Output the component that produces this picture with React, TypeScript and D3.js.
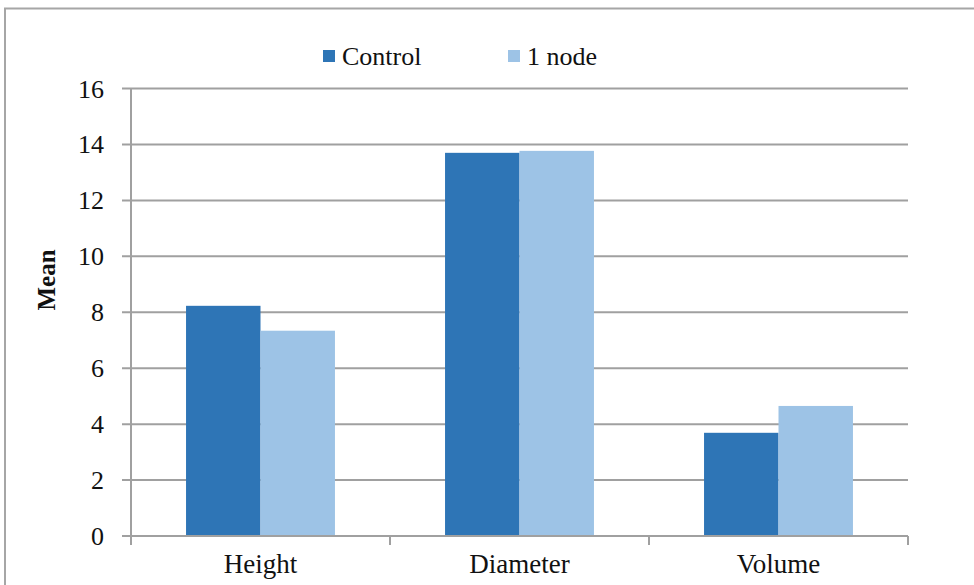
import React from "react";
import * as d3 from "d3";

const categories = ["Height", "Diameter", "Volume"];
const seriesNames = ["Control", "1 node"];
const controlValues = [8.23, 13.7, 3.69];
const nodeValues = [7.34, 13.77, 4.65];
const yTicks = [0, 2, 4, 6, 8, 10, 12, 14, 16];
const colors = ["#2E75B6", "#9DC3E6"];

const W = 974;
const H = 585;
const left = 131;
const right = 908;
const top = 88.5;
const bottom = 536;

export default function App() {
  const x = d3.scaleBand<string>().domain(categories).range([left, right]).paddingInner(0.425).paddingOuter(0.2125);
  const x1 = d3.scaleBand<string>().domain(seriesNames).range([0, x.bandwidth()]);
  const y = d3.scaleLinear().domain([0, 16]).range([bottom, top]);
  const series = [controlValues, nodeValues];
  const step = x.step();
  const boundaries = d3.range(categories.length + 1).map((i) => left + i * step);

  return (
    <svg
      width={W}
      height={H}
      fontFamily="Times"
      style={{ position: "absolute", left: 0, top: 0, background: "#fff", fontFamily: "Times" }}
    >
      <rect x={0} y={0} width={W} height={H} fill="#fff" />
      <path d={`M5,${H} L5,8.5 L${W},8.5`} fill="none" stroke="#A6A6A6" strokeWidth={2} />
      {yTicks.map((t) => (
        <line key={t} x1={122} x2={right} y1={y(t)} y2={y(t)} stroke="#A0A0A0" strokeWidth={2} />
      ))}
      {categories.map((c, i) => (
        <g key={c}>
          {series.map((vals, s) => (
            <rect
              key={s}
              x={(x(c) as number) + (x1(seriesNames[s]) as number)}
              y={y(vals[i])}
              width={x1.bandwidth()}
              height={bottom - y(vals[i])}
              fill={colors[s]}
            />
          ))}
        </g>
      ))}
      <line x1={left} x2={left} y1={top} y2={bottom} stroke="#A0A0A0" strokeWidth={2} />
      {yTicks.map((t) => (
        <text key={t} x={104} y={y(t) + 9} textAnchor="end" fontSize={26} fill="#111">
          {t}
        </text>
      ))}
      <line x1={left} x2={right} y1={bottom} y2={bottom} stroke="#A0A0A0" strokeWidth={2} />
      {boundaries.map((b, i) => (
        <line key={i} x1={b} x2={b} y1={bottom} y2={545} stroke="#A0A0A0" strokeWidth={2} />
      ))}
      {categories.map((c) => (
        <text key={c} x={(x(c) as number) + x.bandwidth() / 2} y={573} textAnchor="middle" fontSize={27} fill="#111">
          {c}
        </text>
      ))}
      <text transform="translate(55,280) rotate(-90)" textAnchor="middle" fontSize={25} fontWeight="bold" fill="#111">
        Mean
      </text>
      {seriesNames.map((n, i) => {
        const lx = [323, 508][i];
        return (
          <g key={n}>
            <rect x={lx} y={50} width={12} height={12} fill={colors[i]} />
            <text x={lx + 19} y={65} fontSize={26} fill="#111">
              {n}
            </text>
          </g>
        );
      })}
    </svg>
  );
}
